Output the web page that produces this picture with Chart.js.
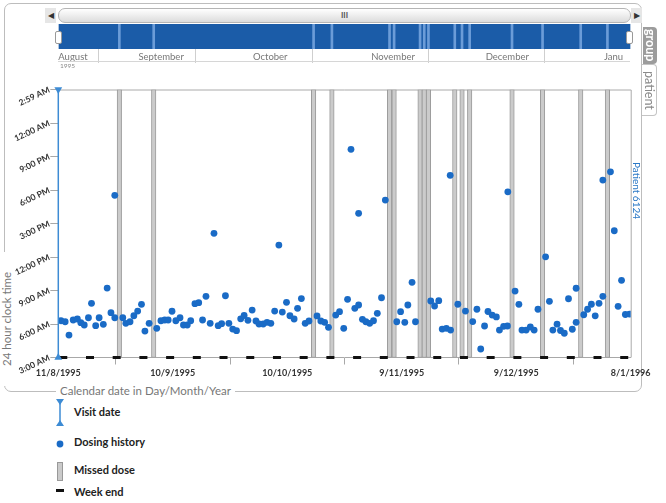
<!DOCTYPE html>
<html>
<head>
<meta charset="utf-8">
<script src="https://cdn.jsdelivr.net/npm/chart.js@4.4.0/dist/chart.umd.min.js"></script>
<style>
  body { margin: 0; background: #fff; font-family: Lato, "Open Sans", sans-serif; }
  #wrap { position: relative; width: 666px; height: 503px; overflow: hidden; }
  #wrap > * { position: absolute; }
  #frame { left: 4px; top: 3px; width: 636px; height: 387px; border: 1px solid #bdbdbd; border-radius: 7px; }
  #ytitle { left: 0px; top: 252px; width: 14px; height: 134px; background: #fff; color: #777; font-size: 11.5px;
            writing-mode: vertical-rl; transform: rotate(180deg); text-align: center; line-height: 14px; }
  #xtitle { left: 56px; top: 383px; background: #fff; color: #777; font-size: 11.5px; padding: 0 4px; line-height: 15px; }
  #scroll { left: 58px; top: 8px; width: 571px; height: 13px; border: 1px solid #b5b5b5; border-radius: 7px;
            background: linear-gradient(#ffffff, #dcdcdc); font-size: 8px; color: #555; text-align: center; line-height: 13px; font-weight: bold; }
  .arr { top: 8px; width: 11px; height: 15px; background: #e6e6e6; color: #333; font-size: 8px; line-height: 15px; text-align: center; }
  .handle { top: 31px; width: 5px; height: 11px; background: #fff; border: 1px solid #999; border-radius: 2px; }
  #navline { left: 58px; top: 61px; width: 572px; height: 1px; background: #d6d6d6; }
  #yr { left: 60px; top: 62px; font-size: 6.5px; color: #888; }
  #pt { left: 630px; top: 162px; width: 13px; height: 70px; color: #2a78c6; font-size: 10px; writing-mode: vertical-rl;
        line-height: 13px; white-space: nowrap; }
  #tabG { left: 643px; top: 27px; width: 14px; height: 37px; background: #9c9c9c; color: #fff; font-size: 12.5px; font-weight: bold;
          writing-mode: vertical-rl; line-height: 14px; text-align: center; border-radius: 0 4px 4px 0; }
  #tabP { left: 642px; top: 64px; width: 14px; height: 50px; background: #fff; border: 1px solid #c4c4c4; border-left: none; color: #8a8a8a;
          font-size: 12.5px; writing-mode: vertical-rl; line-height: 14px; text-align: center; border-radius: 0 4px 4px 0; }
  .lg { left: 74px; font-size: 11px; font-weight: bold; color: #222; line-height: 14px; }
  .ic { left: 55px; }
</style>
</head>
<body>
<div id="wrap">
  <div id="frame"></div>
  <div id="ytitle">24 hour clock time</div>
  <div id="xtitle">Calendar date in Day/Month/Year</div>

  <div class="arr" style="left:45px">&#9664;</div>
  <div class="arr" style="left:631px">&#9654;</div>
  <div id="scroll">III</div>
  <canvas id="nav" width="666" height="80" style="left:0;top:0"></canvas>
  <div class="handle" style="left:55px"></div>
  <div class="handle" style="left:626px"></div>
  <div id="navline"></div>
  <div id="yr">1995</div>

  <canvas id="main" width="666" height="310" style="left:0;top:80px"></canvas>
  <div id="pt">Patient 6124</div>
  <div id="tabG">group</div>
  <div id="tabP">patient</div>

  <svg class="ic" style="top:399px" width="10" height="27"><line x1="5" y1="2" x2="5" y2="25" stroke="#3d8bd4" stroke-width="1.5"/><polygon points="1,0 9,0 5,6" fill="#3d8bd4"/><polygon points="1,27 9,27 5,21" fill="#3d8bd4"/></svg>
  <div class="lg" style="top:405px">Visit date</div>
  <svg class="ic" style="top:439px" width="10" height="10"><circle cx="5" cy="5" r="3.4" fill="#1a6bc6"/></svg>
  <div class="lg" style="top:435px">Dosing history</div>
  <svg class="ic" style="top:462px" width="10" height="20"><rect x="2.5" y="0.5" width="5" height="18" fill="#cacaca" stroke="#999"/></svg>
  <div class="lg" style="top:463px">Missed dose</div>
  <svg class="ic" style="top:489px" width="10" height="4"><rect x="1" y="0" width="8" height="3" fill="#111"/></svg>
  <div class="lg" style="top:485px">Week end</div>
</div>

<script>
// days counted from 11 Aug 1995 (day 0); times in hours from 3:00 AM (3) to 2:59 AM next day (27)
const xTickDays = [0, 30, 60, 90, 120, 150];
const xTickLabels = ['11/8/1995', '10/9/1995', '10/10/1995', '9/11/1995', '9/12/1995', '8/1/1996'];
const yTickHours = [3, 6, 9, 12, 15, 18, 21, 24, 27];
const yTickLabels = ['3:00 AM', '6:00 AM', '9:00 AM', '12:00 PM', '3:00 PM', '6:00 PM', '9:00 PM', '12:00 AM', '2:59 AM'];
const monthDays = [0, 21, 51, 82, 112, 143];
const monthNames = ['August', 'September', 'October', 'November', 'December', 'Janu'];

const visitDays = [0];
const missedDays = [16.0, 25.0, 66.9, 71.7, 86.8, 88.0, 94.8, 95.9, 97.0, 103.9, 105.8, 107.8, 118.9, 126.9, 136.9, 143.9];
const weekEndDays = [1.3, 8.3, 15.3, 22.3, 29.3, 36.3, 43.3, 50.3, 57.3, 64.3, 71.3, 78.3, 85.3, 92.3, 99.3, 106.3,
  113.3, 120.3, 127.3, 134.3, 141.3, 148.3];

const doseDays = [
  0.7, 1.8, 2.8, 3.9, 5.0, 5.9, 6.8, 7.9, 8.7, 9.8,
  10.7, 11.8, 12.8, 13.8, 14.8, 14.8, 16.9, 17.7, 18.8, 19.8,
  20.8, 21.8, 22.7, 23.8, 25.8, 26.9, 27.9, 28.8, 29.8, 30.8,
  31.9, 32.8, 33.8, 34.7, 35.8, 36.8, 37.8, 38.7, 39.8, 40.8,
  41.9, 42.8, 43.8, 44.7, 45.7, 46.7, 47.8, 48.7, 49.7, 50.8,
  51.8, 52.6, 53.7, 54.7, 55.7, 56.7, 57.8, 58.7, 59.8, 60.7,
  61.8, 62.7, 63.7, 64.7, 65.7, 67.8, 68.8, 69.8, 70.8, 72.7,
  73.7, 74.8, 75.8, 76.7, 77.7, 78.7, 78.7, 79.7, 80.6, 81.6,
  82.6, 83.6, 84.7, 85.7, 88.7, 89.7, 90.8, 91.6, 92.7, 93.6,
  97.6, 98.6, 99.7, 100.6, 101.7, 102.7, 102.8, 104.7, 106.7, 108.6,
  109.7, 110.7, 111.7, 112.6, 113.7, 114.8, 115.6, 116.7, 117.7, 117.8,
  119.7, 120.7, 121.5, 122.6, 123.7, 124.7, 125.7, 127.7, 128.7, 129.6,
  130.7, 131.6, 132.6, 133.7, 134.7, 135.7, 135.7, 137.7, 138.7, 139.7,
  140.7, 141.7, 142.7, 142.7, 144.7, 145.7, 146.7, 147.6, 148.6, 149.7
];
const doseHours = [
  6.29, 6.20, 5.01, 6.36, 6.45, 6.12, 5.91, 6.56, 7.85, 5.85,
  6.56, 5.97, 9.22, 7.01, 6.56, 17.52, 6.56, 6.06, 6.20, 6.74,
  7.16, 7.76, 5.37, 6.06, 5.61, 6.29, 6.36, 6.36, 7.14, 6.29,
  6.56, 5.91, 5.91, 6.29, 7.82, 7.91, 6.36, 8.48, 6.06, 14.12,
  5.85, 6.03, 8.53, 6.06, 5.55, 5.40, 6.46, 6.76, 6.33, 7.25,
  6.27, 6.00, 6.00, 6.15, 6.06, 7.16, 13.07, 7.07, 7.94, 6.74,
  6.45, 7.40, 8.28, 6.06, 6.27, 6.72, 6.27, 6.15, 5.70, 6.80,
  7.10, 5.61, 8.21, 21.64, 7.40, 7.70, 15.91, 6.42, 6.20, 6.06,
  6.29, 6.96, 8.35, 17.10, 6.20, 7.10, 6.15, 7.70, 9.73, 6.20,
  8.06, 7.61, 8.09, 5.55, 5.61, 19.31, 5.46, 7.77, 7.16, 6.22,
  7.32, 3.76, 5.82, 7.12, 6.80, 6.63, 5.46, 5.79, 5.82, 17.84,
  8.95, 7.76, 5.46, 5.46, 5.73, 5.46, 7.32, 12.02, 8.03, 5.46,
  5.98, 5.42, 5.17, 8.26, 5.53, 6.15, 9.20, 6.83, 7.32, 7.77,
  6.73, 7.85, 8.48, 18.89, 19.63, 14.35, 7.58, 9.91, 6.85, 6.89
];

const DAY_MIN = 0, DAY_MAX = 150;
const HOUR_MIN = 3, HOUR_MAX = 27;
const BLUE = '#1a6bc6';
const VISIT = '#3d8bd4';

// --- navigator strip on top ---
new Chart(document.getElementById('nav'), {
  type: 'bar',
  data: {
    datasets: [
      { type: 'bar', data: missedDays.map(d => ({ x: d, y: 1 })), backgroundColor: '#6b9cd8', barThickness: 2, order: 1 },
      { type: 'line', data: [{ x: DAY_MIN, y: 1 }, { x: DAY_MAX, y: 1 }], fill: 'origin', backgroundColor: '#1b5ca8',
        borderWidth: 0, pointRadius: 0, order: 2 }
    ]
  },
  options: {
    responsive: false, animation: false,
    layout: { padding: { left: 58.3, right: 35.3, top: 24, bottom: 0 } },
    plugins: { legend: { display: false }, tooltip: { enabled: false } },
    scales: {
      x: {
        type: 'linear', min: DAY_MIN, max: DAY_MAX, offset: false,
        afterBuildTicks: s => { s.ticks = monthDays.map(v => ({ value: v })); },
        ticks: { align: 'start', autoSkip: false, maxRotation: 0, color: '#777', font: { size: 9.5, family: 'Lato' }, padding: -12,
                 callback: v => monthNames[monthDays.indexOf(v)] },
        grid: { drawOnChartArea: false, tickLength: 14, color: '#cfcfcf' },
        border: { display: false },
        afterFit: s => { s.height = 31; }
      },
      y: { min: 0, max: 1, display: false }
    }
  }
});

// --- main plot ---
const plotFrame = {
  id: 'plotFrame',
  beforeDatasetsDraw(chart) {
    const { ctx, chartArea: a } = chart;
    ctx.save();
    ctx.strokeStyle = '#aaa';
    ctx.lineWidth = 1;
    ctx.beginPath();
    ctx.moveTo(a.left, a.top + 0.5);
    ctx.lineTo(a.right + 0.5, a.top + 0.5);
    ctx.lineTo(a.right + 0.5, a.bottom);
    ctx.stroke();
    ctx.restore();
  }
};

new Chart(document.getElementById('main'), {
  type: 'scatter',
  data: {
    datasets: [
      { type: 'bar', label: 'Missed dose', data: missedDays.map(d => ({ x: d, y: [HOUR_MIN, HOUR_MAX] })),
        backgroundColor: '#cbcbcb', borderColor: '#9b9b9b', borderWidth: 1, borderSkipped: false, barThickness: 4.5, order: 4 },
      { type: 'scatter', label: 'Dosing history', data: doseDays.map((d, i) => ({ x: d, y: doseHours[i] })),
        backgroundColor: BLUE, borderWidth: 0, pointRadius: 3.4, order: 3 },
      { type: 'scatter', label: 'Week end', data: weekEndDays.map(d => ({ x: d, y: HOUR_MIN })),
        pointStyle: 'line', pointRadius: 4, borderColor: '#111', borderWidth: 3, clip: false, order: 2 },
      { type: 'line', label: 'Visit date', data: [{ x: visitDays[0], y: HOUR_MIN }, { x: visitDays[0], y: HOUR_MAX }],
        borderColor: VISIT, borderWidth: 1.5, backgroundColor: VISIT, pointBorderWidth: 0,
        pointStyle: 'triangle', pointRadius: 4.5, pointRotation: [0, 180], clip: false, order: 1 }
    ]
  },
  options: {
    responsive: false, animation: false,
    layout: { padding: { left: 0, right: 35.3, top: 9.5, bottom: 0 } },
    plugins: { legend: { display: false }, tooltip: { enabled: false } },
    scales: {
      x: {
        type: 'linear', min: DAY_MIN, max: DAY_MAX, offset: false,
        afterBuildTicks: s => { s.ticks = xTickDays.map(v => ({ value: v })); },
        ticks: { autoSkip: false, maxRotation: 0, color: '#333', padding: 3,
                 font: { size: 9, weight: 'bold', family: 'Lato' },
                 callback: v => xTickLabels[xTickDays.indexOf(v)] },
        grid: { drawOnChartArea: false, tickLength: 7, color: '#a8a8a8' },
        border: { color: '#a8a8a8' },
        afterFit: s => { s.height = 32.5; }
      },
      y: {
        min: HOUR_MIN, max: HOUR_MAX,
        afterBuildTicks: s => { s.ticks = yTickHours.map(v => ({ value: v })); },
        ticks: { autoSkip: false, minRotation: 25, maxRotation: 25, color: '#333', padding: 1,
                 font: { size: 8.5, weight: 'bold', family: 'Lato' },
                 callback: v => yTickLabels[yTickHours.indexOf(v)] },
        grid: { drawOnChartArea: false, tickLength: 8, color: '#a8a8a8' },
        border: { display: false },
        afterFit: s => { s.width = 58.3; }
      }
    }
  },
  plugins: [plotFrame]
});
</script>
</body>
</html>
